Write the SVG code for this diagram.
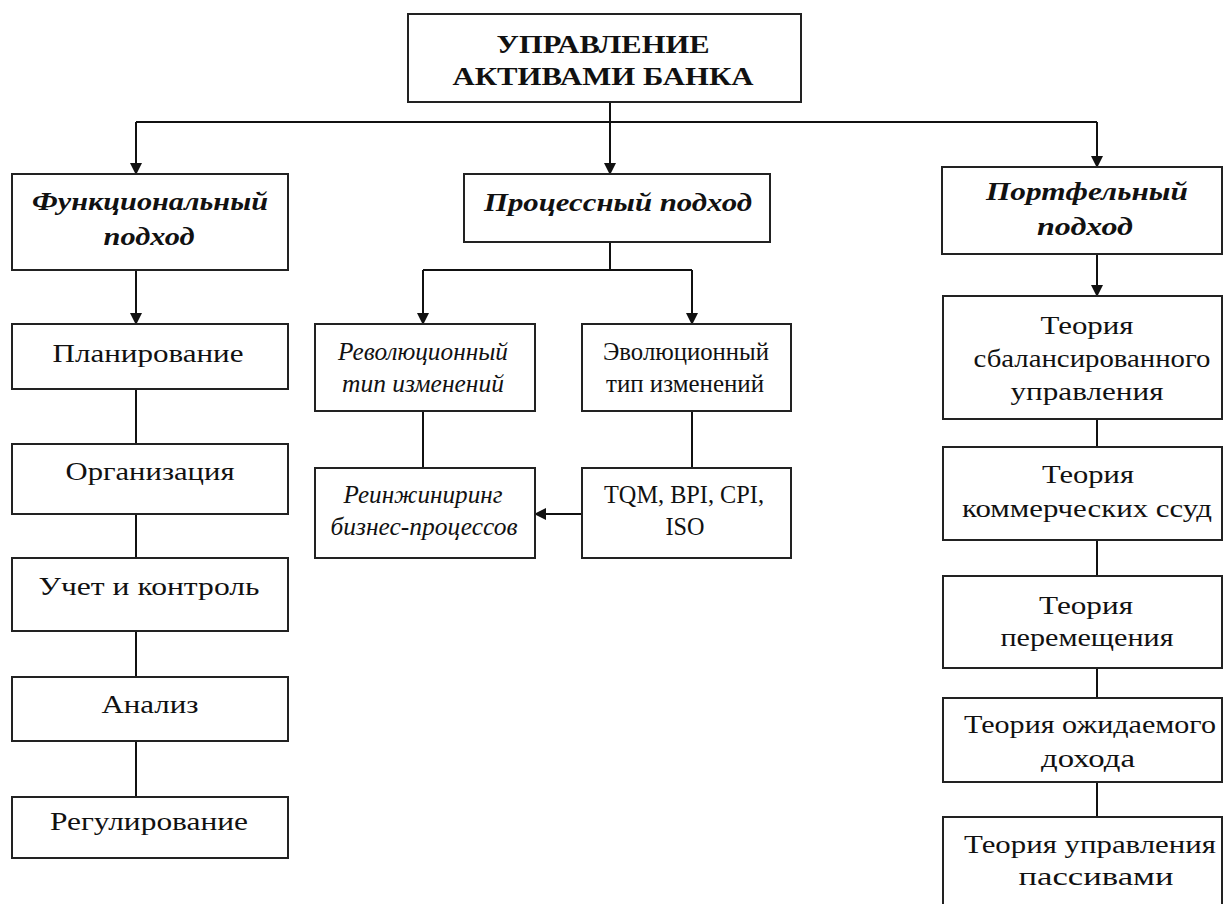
<svg xmlns="http://www.w3.org/2000/svg" width="1227" height="904" viewBox="0 0 1227 904">
<style>
.box{fill:#fff;stroke:#222;stroke-width:2}
.t{font-family:"Liberation Serif","Times New Roman",serif;font-size:25px;fill:#111;text-anchor:middle}
.b{font-weight:bold}
.i{font-style:italic}
.c{stroke:#111;stroke-width:2;fill:none}
</style>
<defs>
<marker id="ah" markerWidth="12" markerHeight="12" refX="11" refY="6" orient="auto" markerUnits="userSpaceOnUse">
<path d="M0,0 L12,6 L0,12 Z" fill="#111"/>
</marker>
</defs>
<rect width="1227" height="904" fill="#fff"/>
<g id="connectors">
<line class="c" x1="610" y1="102" x2="610" y2="122"/>
<line class="c" x1="136" y1="122" x2="1097" y2="122"/>
<line class="c" x1="136" y1="122" x2="136" y2="174" marker-end="url(#ah)"/>
<line class="c" x1="610" y1="122" x2="610" y2="174" marker-end="url(#ah)"/>
<line class="c" x1="1097" y1="122" x2="1097" y2="167" marker-end="url(#ah)"/>
<line class="c" x1="136" y1="270" x2="136" y2="324" marker-end="url(#ah)"/>
<line class="c" x1="136" y1="389" x2="136" y2="444"/>
<line class="c" x1="136" y1="514" x2="136" y2="558"/>
<line class="c" x1="136" y1="631" x2="136" y2="677"/>
<line class="c" x1="136" y1="741" x2="136" y2="797"/>
<line class="c" x1="610" y1="242" x2="610" y2="270"/>
<line class="c" x1="423" y1="270" x2="692" y2="270"/>
<line class="c" x1="423" y1="270" x2="423" y2="324" marker-end="url(#ah)"/>
<line class="c" x1="692" y1="270" x2="692" y2="324" marker-end="url(#ah)"/>
<line class="c" x1="423" y1="411" x2="423" y2="468"/>
<line class="c" x1="692" y1="411" x2="692" y2="468"/>
<line class="c" x1="582" y1="514" x2="535" y2="514" marker-end="url(#ah)"/>
<line class="c" x1="1097" y1="254" x2="1097" y2="296" marker-end="url(#ah)"/>
<line class="c" x1="1097" y1="419" x2="1097" y2="447"/>
<line class="c" x1="1097" y1="540" x2="1097" y2="576"/>
<line class="c" x1="1097" y1="668" x2="1097" y2="698"/>
<line class="c" x1="1097" y1="782" x2="1097" y2="817"/>
</g>
<g id="root"><rect class="box" x="408" y="14" width="393" height="88"/>
<text class="t b" x="603" y="53" textLength="213" lengthAdjust="spacingAndGlyphs">УПРАВЛЕНИЕ</text><text class="t b" x="603" y="85" textLength="301" lengthAdjust="spacingAndGlyphs">АКТИВАМИ БАНКА</text></g>
<g id="func"><rect class="box" x="12" y="174" width="276" height="96"/>
<text class="t b i" x="150" y="210" textLength="236" lengthAdjust="spacingAndGlyphs">Функциональный</text><text class="t b i" x="149" y="245" textLength="91" lengthAdjust="spacingAndGlyphs">подход</text></g>
<g id="proc"><rect class="box" x="464" y="174" width="306" height="68"/>
<text class="t b i" x="618" y="211" textLength="268" lengthAdjust="spacingAndGlyphs">Процессный подход</text></g>
<g id="port"><rect class="box" x="942" y="167" width="280" height="87"/>
<text class="t b i" x="1087" y="200" textLength="202" lengthAdjust="spacingAndGlyphs">Портфельный</text><text class="t b i" x="1085" y="235" textLength="96" lengthAdjust="spacingAndGlyphs">подход</text></g>
<g id="plan"><rect class="box" x="12" y="324" width="276" height="65"/><text class="t" x="148" y="362" textLength="191" lengthAdjust="spacingAndGlyphs">Планирование</text></g>
<g id="org"><rect class="box" x="12" y="444" width="276" height="70"/><text class="t" x="150" y="480" textLength="169" lengthAdjust="spacingAndGlyphs">Организация</text></g>
<g id="uchet"><rect class="box" x="12" y="558" width="276" height="73"/><text class="t" x="149" y="595" textLength="221" lengthAdjust="spacingAndGlyphs">Учет и контроль</text></g>
<g id="analiz"><rect class="box" x="12" y="677" width="276" height="64"/><text class="t" x="150" y="713" textLength="97" lengthAdjust="spacingAndGlyphs">Анализ</text></g>
<g id="reg"><rect class="box" x="12" y="797" width="276" height="61"/><text class="t" x="149" y="830" textLength="198" lengthAdjust="spacingAndGlyphs">Регулирование</text></g>
<g id="rev"><rect class="box" x="315" y="324" width="220" height="87"/>
<text class="t i" x="423" y="360" textLength="170" lengthAdjust="spacingAndGlyphs">Революционный</text><text class="t i" x="423" y="392" textLength="162" lengthAdjust="spacingAndGlyphs">тип изменений</text></g>
<g id="evo"><rect class="box" x="582" y="324" width="209" height="87"/>
<text class="t" x="686" y="360" textLength="166" lengthAdjust="spacingAndGlyphs">Эволюционный</text><text class="t" x="685" y="392" textLength="158" lengthAdjust="spacingAndGlyphs">тип изменений</text></g>
<g id="reeng"><rect class="box" x="315" y="468" width="220" height="90"/>
<text class="t i" x="423" y="503" textLength="159" lengthAdjust="spacingAndGlyphs">Реинжиниринг</text><text class="t i" x="424" y="535" textLength="187" lengthAdjust="spacingAndGlyphs">бизнес-процессов</text></g>
<g id="tqm"><rect class="box" x="582" y="468" width="209" height="90"/>
<text class="t" x="684" y="503" textLength="160" lengthAdjust="spacingAndGlyphs">TQM, BPI, CPI,</text><text class="t" x="685" y="535" textLength="39" lengthAdjust="spacingAndGlyphs">ISO</text></g>
<g id="th1"><rect class="box" x="943" y="296" width="279" height="123"/>
<text class="t" x="1087" y="334" textLength="93" lengthAdjust="spacingAndGlyphs">Теория</text><text class="t" x="1092" y="367" textLength="237" lengthAdjust="spacingAndGlyphs">сбалансированного</text><text class="t" x="1087" y="400" textLength="153" lengthAdjust="spacingAndGlyphs">управления</text></g>
<g id="th2"><rect class="box" x="943" y="447" width="279" height="93"/>
<text class="t" x="1088" y="483" textLength="92" lengthAdjust="spacingAndGlyphs">Теория</text><text class="t" x="1087" y="517" textLength="250" lengthAdjust="spacingAndGlyphs">коммерческих ссуд</text></g>
<g id="th3"><rect class="box" x="943" y="576" width="279" height="92"/>
<text class="t" x="1086" y="614" textLength="94" lengthAdjust="spacingAndGlyphs">Теория</text><text class="t" x="1087" y="646" textLength="173" lengthAdjust="spacingAndGlyphs">перемещения</text></g>
<g id="th4"><rect class="box" x="943" y="698" width="279" height="84"/>
<text class="t" x="1090" y="733" textLength="252" lengthAdjust="spacingAndGlyphs">Теория ожидаемого</text><text class="t" x="1088" y="767" textLength="94" lengthAdjust="spacingAndGlyphs">дохода</text></g>
<g id="th5"><rect class="box" x="943" y="817" width="279" height="95"/>
<text class="t" x="1090" y="853" textLength="252" lengthAdjust="spacingAndGlyphs">Теория управления</text><text class="t" x="1096" y="885" textLength="155" lengthAdjust="spacingAndGlyphs">пассивами</text></g>
</svg>
